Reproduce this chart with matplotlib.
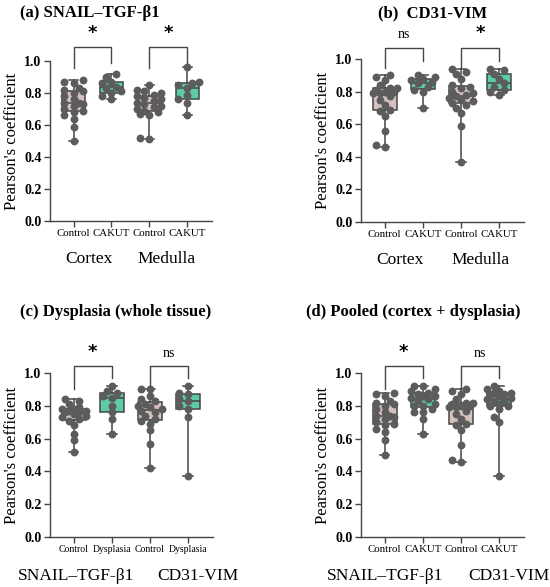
import numpy as np
import matplotlib
matplotlib.use("Agg")
import matplotlib.pyplot as plt

plt.rcParams['font.family'] = ['Liberation Serif', 'DejaVu Serif']

# ---- data ----
# (a) SNAIL-TGF-b1
a_cortex_ctrl = [0.50, 0.59, 0.64, 0.66, 0.68, 0.69, 0.70, 0.72, 0.73, 0.74,
                 0.74, 0.76, 0.78, 0.80, 0.81, 0.82, 0.83, 0.86, 0.87, 0.88]
a_cortex_cakut = [0.76, 0.78, 0.80, 0.81, 0.83, 0.84, 0.86, 0.87, 0.90, 0.92]
a_medulla_ctrl = [0.51, 0.52, 0.66, 0.67, 0.68, 0.69, 0.70, 0.71, 0.72, 0.73,
                  0.74, 0.75, 0.76, 0.77, 0.78, 0.79, 0.80, 0.81, 0.82, 0.85]
a_medulla_cakut = [0.66, 0.74, 0.76, 0.79, 0.83, 0.85, 0.86, 0.87, 0.96]

# (b) CD31-VIM
b_cortex_ctrl = [0.46, 0.47, 0.56, 0.65, 0.68, 0.69, 0.72, 0.75, 0.77, 0.79,
                 0.79, 0.80, 0.80, 0.81, 0.82, 0.82, 0.84, 0.87, 0.89, 0.90]
b_cortex_cakut = [0.70, 0.80, 0.81, 0.83, 0.85, 0.86, 0.87, 0.88, 0.89, 0.90]
b_medulla_ctrl = [0.37, 0.59, 0.67, 0.70, 0.72, 0.73, 0.74, 0.75, 0.76, 0.77,
                  0.78, 0.79, 0.80, 0.82, 0.83, 0.84, 0.88, 0.91, 0.92, 0.94]
b_medulla_cakut = [0.78, 0.80, 0.81, 0.83, 0.85, 0.88, 0.91, 0.93, 0.94]

# (c) dysplasia (whole tissue)
c_snail_ctrl = [0.52, 0.59, 0.63, 0.68, 0.71, 0.72, 0.73, 0.74, 0.75, 0.76,
                0.76, 0.77, 0.77, 0.78, 0.78, 0.79, 0.81, 0.83, 0.84]
c_snail_dysp = [0.63, 0.72, 0.76, 0.80, 0.85, 0.86, 0.88, 0.89, 0.92]
c_cd31_ctrl = [0.42, 0.57, 0.65, 0.69, 0.71, 0.72, 0.74, 0.76, 0.77, 0.78,
               0.79, 0.80, 0.81, 0.83, 0.84, 0.86, 0.90, 0.90]
c_cd31_dysp = [0.37, 0.73, 0.78, 0.80, 0.83, 0.84, 0.87, 0.88, 0.92]

# (d) pooled (cortex + dysplasia)
d_snail_ctrl = a_cortex_ctrl
d_snail_cakut = a_cortex_cakut + c_snail_dysp
d_cd31_ctrl = b_cortex_ctrl
d_cd31_cakut = b_cortex_cakut + c_cd31_dysp

ctrl_color = '#d5c2bf'
case_color = '#5dcaa9'
dot_color = '#5c5c5c'
line_color = '#454545'

fig = plt.figure(figsize=(5.5, 5.87), dpi=100)


def swarm(vals, sx=37.7, sy=160.0, dmin=6.0):
    vals = np.asarray(vals)
    offs = np.zeros(len(vals))
    placed = []
    cands = [0, -5, 5, -9, 9, -12, 12]
    for i in np.argsort(vals):
        y = vals[i] * sy
        best, bestd = 0, -1
        for c in cands:
            d = min([np.hypot(c - px, y - py) for px, py in placed] + [99])
            if d >= dmin:
                best = c
                break
            if d > bestd:
                best, bestd = c, d
        placed.append((best, y))
        offs[i] = best / sx
    return offs


def panel(rect, groups, ticklabels, sigs, grouplabels, grouppos, bracket_y,
          tfs=7.8):
    ax = fig.add_axes(rect)
    pos = [0, 1, 2, 3]
    bp = ax.boxplot(groups, positions=pos, widths=0.62, whis=(0, 100),
                    patch_artist=True, showfliers=False, capwidths=0.25,
                    medianprops=dict(color=line_color, lw=1.1),
                    whiskerprops=dict(color=line_color, lw=1.1),
                    capprops=dict(color=line_color, lw=1.1),
                    boxprops=dict(edgecolor=line_color, lw=1.1))
    for k, b in enumerate(bp['boxes']):
        b.set_facecolor(ctrl_color if k % 2 == 0 else case_color)
    for p, g in zip(pos, groups):
        ax.scatter(p + swarm(g), g, s=32, color=dot_color, zorder=3, lw=0)
    ax.set_xlim(-0.62, 3.65)
    ax.set_ylim(0, 1.0)
    ax.set_yticks(np.arange(0, 1.01, 0.2))
    ax.set_yticklabels([f'{v:.1f}' for v in np.arange(0, 1.01, 0.2)],
                       fontweight='bold', fontsize=10)
    ax.set_xticks(pos)
    ax.set_xticklabels(ticklabels, fontsize=tfs)
    ax.tick_params(axis='both', color=line_color, length=4, width=1)
    ax.tick_params(axis='x', pad=2)
    ax.tick_params(axis='y', pad=2)
    for s in ['top', 'right']:
        ax.spines[s].set_visible(False)
    for s in ['left', 'bottom']:
        ax.spines[s].set_color(line_color)
        ax.spines[s].set_linewidth(1)
    ax.set_ylabel("Pearson's coefficient", fontsize=12, labelpad=3)
    top, lo_l, lo_r = bracket_y
    for (x0, x1), s in zip([(0, 1), (2, 3)], sigs):
        ax.plot([x0, x0, x1, x1], [lo_l, top, top, lo_r], color=line_color,
                lw=1, clip_on=False)
        if s == '*':
            ax.text((x0 + x1) / 2, top + 0.035, '*', ha='center', va='bottom',
                    fontsize=13, fontweight='bold', family='DejaVu Sans')
        else:
            ax.text((x0 + x1) / 2, top + 0.04, s, ha='center', va='bottom',
                    fontsize=10)
    for lab, xp in zip(grouplabels, grouppos):
        ax.text(xp, -0.235, lab, ha='center', va='center', fontsize=12.5,
                transform=ax.get_xaxis_transform())
    return ax


panel([0.0909, 0.6235, 0.2945, 0.2726],
      [a_cortex_ctrl, a_cortex_cakut, a_medulla_ctrl, a_medulla_cakut],
      ['Control', 'CAKUT', 'Control', 'CAKUT'], ['*', '*'],
      ['Cortex', 'Medulla'], [0.4, 2.45], (1.085, 0.955, 0.985))
panel([0.6564, 0.6218, 0.2964, 0.2777],
      [b_cortex_ctrl, b_cortex_cakut, b_medulla_ctrl, b_medulla_cakut],
      ['Control', 'CAKUT', 'Control', 'CAKUT'], ['ns', '*'],
      ['Cortex', 'Medulla'], [0.4, 2.5], (1.07, 0.945, 0.99))
panel([0.0909, 0.0852, 0.2964, 0.2794],
      [c_snail_ctrl, c_snail_dysp, c_cd31_ctrl, c_cd31_dysp],
      ['Control', 'Dysplasia', 'Control', 'Dysplasia'], ['*', 'ns'],
      ['SNAIL\u2013TGF-\u03b21', 'CD31-VIM'], [0.05, 3.25], (1.04, 0.90, 0.97),
      tfs=7.0)
panel([0.6564, 0.0852, 0.2964, 0.2794],
      [d_snail_ctrl, d_snail_cakut, d_cd31_ctrl, d_cd31_cakut],
      ['Control', 'CAKUT', 'Control', 'CAKUT'], ['*', 'ns'],
      ['SNAIL\u2013TGF-\u03b21', 'CD31-VIM'], [0.0, 3.25], (1.04, 0.90, 0.97))

tkw = dict(fontsize=12, fontweight='bold', va='center')
fig.text(20 / 550, 1 - 13 / 587, '(a) SNAIL\u2013TGF-\u03b21', ha='left', **tkw)
fig.text(433 / 550, 1 - 13 / 587, '(b)  CD31-VIM', ha='center', **tkw)
fig.text(20 / 550, 1 - 312 / 587, '(c) Dysplasia (whole tissue)', ha='left', **tkw)
fig.text(413 / 550, 1 - 312 / 587, '(d) Pooled (cortex + dysplasia)', ha='center', **tkw)

fig.savefig('out.png', dpi=100)
